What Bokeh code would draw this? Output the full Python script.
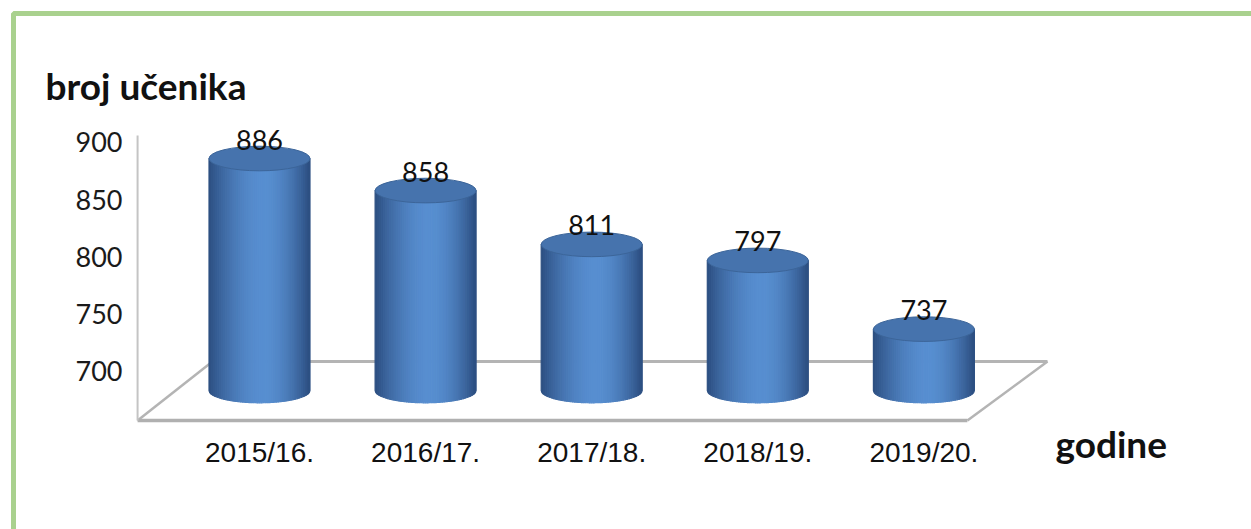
import math
from bokeh.plotting import figure
from bokeh.models import Range1d, ColumnDataSource
from bokeh.core.properties import value
from bokeh.embed import file_html
from bokeh.resources import INLINE

# ---------------- data ----------------
CATEGORIES = ["2015/16.", "2016/17.", "2017/18.", "2018/19.", "2019/20."]
VALUES = [886, 858, 811, 797, 737]
Y_TICKS = [700, 750, 800, 850, 900]
Y_TITLE = "broj učenika"
X_TITLE = "godine"

# ---------------- layout / style ----------------
W, H = 1251, 529
X_RANGE = (-1.5593, 5.9723)
Y_RANGE = (562.0, 1024.0)

BASE_Y = 683.4          # floor level where cylinders stand
FLOOR_FRONT_Y = 657.2
FLOOR_BACK_Y = 708.7
FLOOR_X = (-0.734, 4.262, 4.744, -0.283)   # front-left, front-right, back-right, back-left
AXIS_TOP = 906.0
BAR_W = 0.608
ELL_H = 21.5
TICK_LABEL_X = -0.825
CAT_LABEL_Y = 629.0
BORDER_X = -1.481
BORDER_Y = 1012.7

FONT = "Lato"
DARK = (44, 78, 128)
LIGHT = (88, 143, 209)
TOP_FILL = "#4673ad"

p = figure(width=W, height=H, output_backend="svg", toolbar_location=None,
           x_range=Range1d(*X_RANGE), y_range=Range1d(*Y_RANGE),
           x_axis_location=None, y_axis_location=None, min_border=0, tools="")
p.grid.visible = False
p.outline_line_color = None
p.background_fill_color = "white"
p.border_fill_color = "white"

# green frame (top and left visible)
p.line([BORDER_X, BORDER_X, X_RANGE[1] + 1], [Y_RANGE[0] - 50, BORDER_Y, BORDER_Y],
       line_color="#a9d18e", line_width=5)

# 3D floor
fl, fr, br, bl = FLOOR_X
p.line([bl, br], [FLOOR_BACK_Y, FLOOR_BACK_Y], line_color="#b4b4b4", line_width=3)
p.line([fl, bl], [FLOOR_FRONT_Y, FLOOR_BACK_Y], line_color="#b4b4b4", line_width=2.5)
p.line([fr, br], [FLOOR_FRONT_Y, FLOOR_BACK_Y], line_color="#b4b4b4", line_width=2.5)
p.line([fl, fr], [FLOOR_FRONT_Y, FLOOR_FRONT_Y], line_color="#b0b0b0", line_width=3.5)
# vertical axis line
p.line([fl, fl], [FLOOR_FRONT_Y, AXIS_TOP], line_color="#c4c4c4", line_width=2)

# cylinders built from shaded strips
N = 48
xs, ys, cols = [], [], []
def shade(t):
    c = 0.55
    d = (c - t) / c if t < c else (t - c) / (1 - c)
    f = max(0.0, 1 - d ** 1.8)
    r, g, b = (int(DARK[k] + (LIGHT[k] - DARK[k]) * f) for k in range(3))
    return "#%02x%02x%02x" % (r, g, b)

half_w = BAR_W / 2
for i, v in enumerate(VALUES):
    cx = i
    for j in range(N):
        t0, t1 = j / N, (j + 1) / N
        x0 = cx - half_w + t0 * BAR_W
        x1 = cx - half_w + t1 * BAR_W
        pts_x = [x0, x1]
        pts_y = [v, v]
        for k in range(4):
            xx = x1 - (x1 - x0) * k / 3
            u = max(-1.0, min(1.0, (xx - cx) / half_w))
            pts_x.append(xx)
            pts_y.append(BASE_Y - ELL_H / 2 * math.sqrt(max(0.0, 1 - u * u)))
        xs.append(pts_x)
        ys.append(pts_y)
        cols.append(shade((t0 + t1) / 2))

p.patches(xs, ys, fill_color=cols, line_color=cols, line_width=1.2)

src = ColumnDataSource(dict(x=list(range(len(VALUES))), v=VALUES,
                            lab=[str(v) for v in VALUES], cat=CATEGORIES))
p.ellipse(x="x", y="v", width=BAR_W, height=ELL_H, source=src,
          fill_color=TOP_FILL, line_color="#3c6599", line_width=1)

# value labels
p.text(x="x", y="v", text="lab", source=src, text_align="center",
       text_baseline="middle", y_offset=-19, text_font=value(FONT),
       text_font_size="27px", text_color="#111111")

# y tick labels
p.text(x=[TICK_LABEL_X] * len(Y_TICKS), y=Y_TICKS, text=[str(t) for t in Y_TICKS],
       text_align="right", text_baseline="middle", text_font=value(FONT),
       text_font_size="27px", text_color="#1a1a1a")

# category labels
p.text(x="x", y=CAT_LABEL_Y, text="cat", source=src, text_align="center",
       text_baseline="middle", text_font=value("Liberation Sans"),
       text_font_size="28px", text_color="#111111")

# axis titles
p.text(x=[-1.288], y=[950.0], text=[Y_TITLE], text_align="left",
       text_baseline="alphabetic", text_font=value(FONT), text_font_style="bold",
       text_font_size="37px", text_color="#111111")
p.text(x=[4.792], y=[637.0], text=[X_TITLE], text_align="left",
       text_baseline="alphabetic", text_font=value(FONT), text_font_style="bold",
       text_font_size="37px", text_color="#111111")

open("out.html", "w").write(file_html(p, INLINE))
